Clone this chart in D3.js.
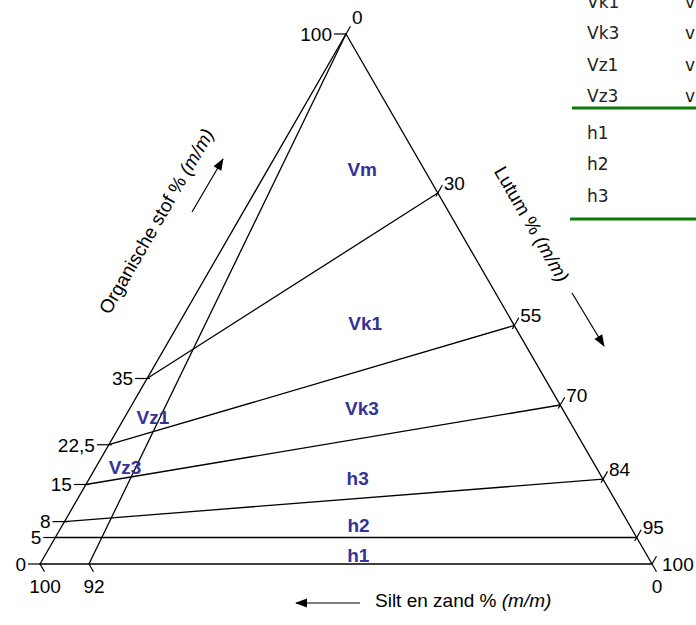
<!DOCTYPE html>
<html>
<head>
<meta charset="utf-8">
<script src="https://cdn.jsdelivr.net/npm/d3@7"></script>
<style>
  body { margin: 0; background: #fff; }
  svg { display: block; }
</style>
</head>
<body>
<div id="chart"></div>
<script>
// points are [organische stof %, lutum %]; silt en zand % = 100 - both
var orgTicks = [0, 5, 8, 15, 22.5, 35, 100];
var orgLabels = ["0", "5", "8", "15", "22,5", "35", "100"];
var lutumTicks = [0, 30, 55, 70, 84, 95, 100];
var siltTicks = [100, 92, 0];

var boundaries = [
  [[5, 0], [5, 95]],
  [[8, 0], [16, 84]],
  [[15, 0], [30, 70]],
  [[22.5, 0], [45, 55]],
  [[35, 0], [70, 30]],
  [[100, 0], [0, 8]]
];

var regionNames = ["Vm", "Vk1", "Vk3", "Vz1", "Vz3", "h3", "h2", "h1"];
var regionAt = [[74.5, 15.4], [45.5, 30.4], [29.4, 37.9], [27.7, 4.6],
                [18.3, 4.75], [16.2, 43.8], [7.3, 48.4], [1.6, 51.2]];

var tableV = ["Vk1", "Vk3", "Vz1", "Vz3"];
var tableVText = ["v", "v", "v", "v"];
var tableH = ["h1", "h2", "h3"];

var width = 696, height = 625;
var side = 612;

// silt+sand corner at bottom-left, lutum corner at bottom-right, organic at top
var x = d3.scaleLinear().domain([0, 100]).range([40, 40 + side]);
var y = d3.scaleLinear().domain([0, 100]).range([564, 564 - side * Math.sqrt(3) / 2]);

function px(p) { return [x(p[1] + p[0] / 2), y(p[0])]; }

var svg = d3.select("#chart").append("svg")
  .attr("width", width)
  .attr("height", height)
  .style("font-family", "'Liberation Sans', Arial, sans-serif");

var corners = [[0, 0], [0, 100], [100, 0]].map(px);

svg.append("defs").append("clipPath").attr("id", "tri")
  .append("polygon").attr("points", corners.join(" "));

svg.select("defs").append("marker")
  .attr("id", "head")
  .attr("viewBox", "0 0 12 10")
  .attr("refX", 11).attr("refY", 5)
  .attr("markerWidth", 13).attr("markerHeight", 10)
  .attr("markerUnits", "userSpaceOnUse")
  .attr("orient", "auto")
  .append("path").attr("d", "M0,0.5 L12,5 L0,9.5 Z").attr("fill", "#000");

var line = d3.line();

// triangle
svg.append("path")
  .attr("d", line(corners) + "Z")
  .attr("fill", "none")
  .attr("stroke", "#000")
  .attr("stroke-width", 1.3);

// class boundaries
svg.selectAll(".boundary")
  .data(boundaries)
  .enter()
  .append("path")
  .attr("class", "boundary")
  .attr("d", function (d) { return line(d.map(px)); })
  .attr("fill", "none")
  .attr("stroke", "#000")
  .attr("stroke-width", 1.3);

// ticks: organic horizontal to the left, lutum up-right, silt down-right
var c60 = 0.5, s60 = Math.sqrt(3) / 2;

var orgG = svg.selectAll(".org").data(orgTicks).enter().append("g").attr("class", "org")
  .attr("transform", function (d) { var p = px([d, 0]); return "translate(" + p[0] + "," + p[1] + ")"; });
orgG.append("line")
  .attr("x1", function (d) { return d === 0 || d === 100 ? 0 : 3; })
  .attr("x2", -12).attr("stroke", "#000").attr("stroke-width", 1.2);
orgG.append("text")
  .attr("x", -14).attr("dy", "0.36em")
  .attr("text-anchor", "end")
  .attr("font-size", 19)
  .text(function (d, i) { return orgLabels[i]; });

var lutG = svg.selectAll(".lut").data(lutumTicks).enter().append("g").attr("class", "lut")
  .attr("transform", function (d) { var p = px([100 - d, d]); return "translate(" + p[0] + "," + p[1] + ")"; });
lutG.append("line")
  .attr("x1", function (d) { return d === 0 || d === 100 ? 0 : -4 * c60; })
  .attr("y1", function (d) { return d === 0 || d === 100 ? 0 : 4 * s60; })
  .attr("x2", 9 * c60).attr("y2", -9 * s60)
  .attr("stroke", "#000").attr("stroke-width", 1.2);
lutG.append("text")
  .attr("x", function (d) { return d === 100 ? 10 : 6; })
  .attr("y", function (d) { return d === 100 ? 0 : d === 0 ? -17 : -10; })
  .attr("dy", "0.36em")
  .attr("font-size", 19)
  .text(function (d) { return d; });

var siltG = svg.selectAll(".silt").data(siltTicks).enter().append("g").attr("class", "silt")
  .attr("transform", function (d) { var p = px([0, 100 - d]); return "translate(" + p[0] + "," + p[1] + ")"; });
siltG.append("line")
  .attr("x2", 9 * c60).attr("y2", 9 * s60)
  .attr("stroke", "#000").attr("stroke-width", 1.2);
siltG.append("text")
  .attr("x", 5).attr("y", 22).attr("dy", "0.36em")
  .attr("text-anchor", "middle")
  .attr("font-size", 19)
  .text(function (d) { return d; });

// class names
svg.append("g").attr("clip-path", "url(#tri)")
  .selectAll("text")
  .data(regionNames)
  .enter()
  .append("text")
  .attr("x", function (d, i) { return px(regionAt[i])[0]; })
  .attr("y", function (d, i) { return px(regionAt[i])[1]; })
  .attr("dy", "0.36em")
  .attr("text-anchor", "middle")
  .attr("font-size", 19)
  .attr("font-weight", "bold")
  .attr("fill", "#333399")
  .text(function (d) { return d; });

// axis titles
function title(g, main) {
  g.append("tspan").text(main);
  g.append("tspan").attr("font-style", "italic").text("(m/m)");
}

var t1 = svg.append("text")
  .attr("transform", "translate(156,221) rotate(-60)")
  .attr("text-anchor", "middle").attr("dy", "0.36em").attr("font-size", 19);
title(t1, "Organische stof % ");
svg.append("line")
  .attr("x1", 192).attr("y1", 212).attr("x2", 223).attr("y2", 159)
  .attr("stroke", "#000").attr("stroke-width", 1.2).attr("marker-end", "url(#head)");

var t2 = svg.append("text")
  .attr("transform", "translate(532,224) rotate(60)")
  .attr("text-anchor", "middle").attr("dy", "0.36em").attr("font-size", 19);
title(t2, "Lutum % ");
svg.append("line")
  .attr("x1", 572).attr("y1", 293).attr("x2", 604).attr("y2", 346)
  .attr("stroke", "#000").attr("stroke-width", 1.2).attr("marker-end", "url(#head)");

var t3 = svg.append("text")
  .attr("x", 375).attr("y", 607).attr("font-size", 19);
title(t3, "Silt en zand % ");
svg.append("line")
  .attr("x1", 360).attr("y1", 603).attr("x2", 296).attr("y2", 603)
  .attr("stroke", "#000").attr("stroke-width", 1.2).attr("marker-end", "url(#head)");

// legend table, cut off at the top and right edge like the source
var table = svg.append("g").style("font-family", "'DejaVu Sans', Verdana, sans-serif")
  .attr("font-size", 17).attr("fill", "#222");
table.selectAll(".rv").data(tableV).enter().append("text").attr("class", "rv")
  .attr("x", 587).attr("y", function (d, i) { return 7.5 + i * 31.5; })
  .text(function (d) { return d; });
table.selectAll(".rv2").data(tableVText).enter().append("text").attr("class", "rv2")
  .attr("x", 685).attr("y", function (d, i) { return 7.5 + i * 31.5; })
  .text(function (d) { return d; });
table.selectAll(".rh").data(tableH).enter().append("text").attr("class", "rh")
  .attr("x", 587).attr("y", function (d, i) { return 138.5 + i * 31.5; })
  .text(function (d) { return d; });
table.append("line").attr("x1", 572).attr("x2", 696).attr("y1", 108).attr("y2", 108)
  .attr("stroke", "#0a7a0a").attr("stroke-width", 3);
table.append("line").attr("x1", 570).attr("x2", 696).attr("y1", 219).attr("y2", 219)
  .attr("stroke", "#0a7a0a").attr("stroke-width", 3);
</script>
</body>
</html>
